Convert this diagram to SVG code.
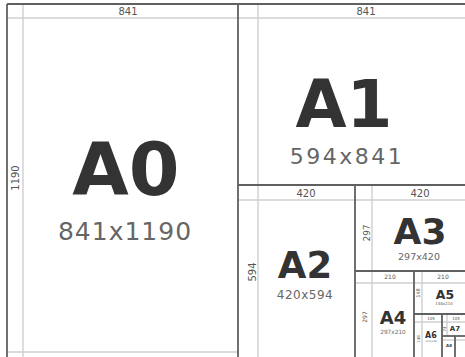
<svg xmlns="http://www.w3.org/2000/svg" width="465" height="357" viewBox="0 0 465 357">
<style>
.div{stroke:#606060;stroke-width:1.8;fill:none}
.g{stroke:#cfcfcf;stroke-width:1.4;fill:none}
.dim{font-family:"DejaVu Sans","Open Sans",sans-serif;fill:#555;text-anchor:middle}
.big{font-family:"DejaVu Sans","Open Sans",sans-serif;font-weight:bold;fill:#333;text-anchor:middle}
.sz{font-family:"DejaVu Sans","Open Sans",sans-serif;fill:#666;text-anchor:middle}
</style>
<rect width="465" height="357" fill="#fff"/>
<g id="guides">
<line class="g" x1="7" y1="18" x2="465" y2="18"/>
<line class="g" x1="23" y1="4" x2="23" y2="357"/>
<line class="g" x1="7" y1="352" x2="238" y2="352"/>
<line class="g" x1="258" y1="4" x2="258" y2="357"/>
<line class="g" x1="238" y1="200" x2="465" y2="200"/>
<line class="g" x1="372" y1="185" x2="372" y2="357"/>
<line class="g" x1="355" y1="283" x2="465" y2="283"/>
<line class="g" x1="422" y1="271" x2="422" y2="357"/>
<line class="g" x1="414" y1="322" x2="465" y2="322"/>
<line class="g" x1="447" y1="314" x2="447" y2="336"/>
<line class="g" x1="442" y1="340" x2="465" y2="340"/>
</g>
<g id="connectors">
<line class="div" x1="7" y1="4" x2="465" y2="4"/>
<line class="div" x1="7" y1="4" x2="7" y2="357"/>
<line class="div" x1="238" y1="4" x2="238" y2="357"/>
<line class="div" x1="238" y1="185" x2="465" y2="185"/>
<line class="div" x1="355" y1="185" x2="355" y2="357"/>
<line class="div" x1="355" y1="271" x2="465" y2="271"/>
<line class="div" x1="414" y1="271" x2="414" y2="357"/>
<line class="div" x1="414" y1="314" x2="465" y2="314"/>
<line class="div" x1="442" y1="314" x2="442" y2="357"/>
<line class="div" x1="442" y1="336" x2="465" y2="336"/>
<line class="div" x1="455" y1="336" x2="455" y2="357"/>
</g>
<g id="A0">
<text class="dim" x="128" y="15" font-size="10">841</text>
<text class="dim" font-size="10" transform="translate(19,178) rotate(-90)">1190</text>
<text class="big" x="126" y="195" font-size="73">A0</text>
<text class="sz" x="125" y="240" font-size="25" letter-spacing="1">841x1190</text>
</g>
<g id="A1">
<text class="dim" x="366" y="15" font-size="10">841</text>
<text class="big" x="344" y="127" font-size="66">A1</text>
<text class="sz" x="347" y="164" font-size="22" letter-spacing="2.5">594x841</text>
</g>
<g id="A2">
<text class="dim" x="306" y="197" font-size="10">420</text>
<text class="dim" font-size="10" transform="translate(256,272) rotate(-90)">594</text>
<text class="big" x="305" y="278" font-size="37">A2</text>
<text class="sz" x="305" y="299" font-size="12" letter-spacing="0.5">420x594</text>
</g>
<g id="A3">
<text class="dim" x="420" y="197" font-size="10">420</text>
<text class="dim" font-size="9" transform="translate(370,233) rotate(-90)">297</text>
<text class="big" x="420" y="244" font-size="36">A3</text>
<text class="sz" x="419" y="260" font-size="9.5">297x420</text>
</g>
<g id="A4">
<text class="dim" x="390" y="279" font-size="6">210</text>
<text class="dim" font-size="6" transform="translate(367,317) rotate(-90)">297</text>
<text class="big" x="393" y="324" font-size="18">A4</text>
<text class="sz" x="393" y="334" font-size="5.8">297x210</text>
</g>
<g id="A5">
<text class="dim" x="443" y="279" font-size="6">210</text>
<text class="dim" font-size="5" transform="translate(420,293) rotate(-90)">148</text>
<text class="big" x="445" y="299" font-size="12.5">A5</text>
<text class="sz" x="444" y="305" font-size="4">148x210</text>
</g>
<g id="A6">
<text class="dim" x="431" y="320" font-size="4">105</text>
<text class="dim" font-size="4" transform="translate(420,339) rotate(-90)">148</text>
<text class="big" x="431" y="337.5" font-size="8">A6</text>
<text class="sz" x="431" y="342" font-size="2.5">105x148</text>
</g>
<g id="A7">
<text class="dim" x="456" y="320" font-size="4">105</text>
<text class="dim" font-size="4" transform="translate(446,329) rotate(-90)">74</text>
<text class="big" x="455" y="331" font-size="7">A7</text>
</g>
<g id="A8">
<text class="big" x="449" y="347" font-size="4">A8</text>
</g>
</svg>
